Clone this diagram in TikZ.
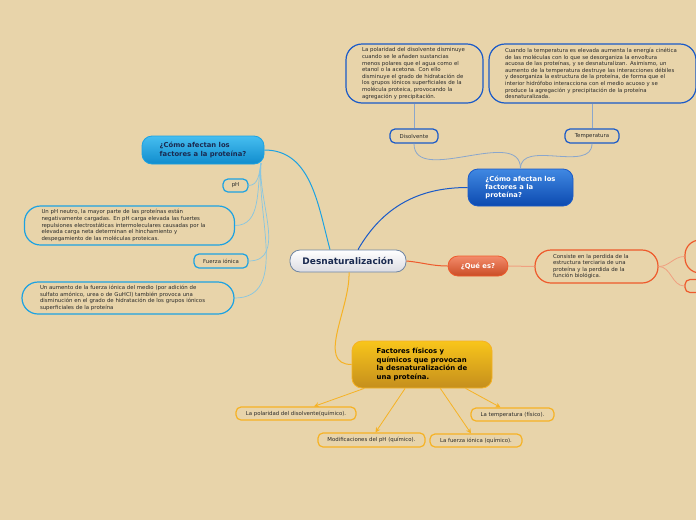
\documentclass[tikz,border=0pt]{standalone}
\usepackage{fontspec}
\setmainfont{DejaVu Sans}
\usepackage{tikz}
\usetikzlibrary{positioning,calc,arrows.meta}

\definecolor{bgtan}{HTML}{E8D4AA}
\definecolor{txtgray}{HTML}{2A2A2A}
\definecolor{navy}{HTML}{1A2A50}
\definecolor{deepblue}{HTML}{1A5AC8}
\definecolor{paleblue}{HTML}{8AA6CC}
\definecolor{skyblue}{HTML}{1CA2E2}
\definecolor{palesky}{HTML}{86C6E2}
\definecolor{redorange}{HTML}{EE5A2C}
\definecolor{paleorange}{HTML}{F0A080}
\definecolor{gold}{HTML}{F6B224}

\tikzset{
  topic/.style={rounded corners=10pt, draw, line width=0.8pt, inner sep=0pt,
    align=left, font=\bfseries\fontsize{6.8}{8.2}\selectfont},
  leaf/.style={rounded corners=5pt, draw, line width=1.2pt, inner sep=0pt,
    font=\fontsize{5.4}{6}\selectfont, text=txtgray},
  descbox/.style={rounded corners=16pt, draw, line width=1.2pt, inner xsep=16pt,
    inner ysep=0pt, align=left, font=\fontsize{5.4}{6.6}\selectfont, text=txtgray},
}

\begin{document}
\begin{tikzpicture}[x=1pt, y=-1pt]
  % Background
  \fill[bgtan] (0,0) rectangle (696,520);
  \clip (0,0) rectangle (696,520);

  % Central topic
  \node[topic, minimum width=116pt, minimum height=22pt, draw=paleblue!80!black,
    top color=white, bottom color=blue!10!gray!25, text=navy,
    font=\bfseries\fontsize{9}{10}\selectfont] (desn) at (348,261) {Desnaturalización};

  % Main branches
  \node[topic, minimum width=105pt, minimum height=37pt, draw=deepblue,
    top color={rgb,255:red,64;green,136;blue,226}, bottom color={rgb,255:red,12;green,74;blue,176}, text=white] (blueq) at (520.5,187.5)
    {¿Cómo afectan los\\factores a la\\proteína?};
  \node[topic, minimum width=122pt, minimum height=28pt, draw=skyblue,
    top color={rgb,255:red,70;green,190;blue,240}, bottom color={rgb,255:red,16;green,140;blue,205}, text=navy] (cyanq) at (203,150)
    {¿Cómo afectan los\\factores a la proteína?};
  \node[topic, minimum width=60pt, minimum height=20pt, draw=redorange,
    top color=redorange!70!white, bottom color=redorange!85!black, text=white] (quees) at (478,266)
    {¿Qué es?};
  \node[topic, minimum width=140pt, minimum height=47pt, draw=gold,
    top color=gold!75!yellow, bottom color=gold!80!black, text=black,
    font=\bfseries\fontsize{6.9}{8.5}\selectfont] (fact) at (422,364.5)
    {Factores físicos y\\químicos que provocan\\la desnaturalización de\\una proteína.};

  % Blue branch
  \node[leaf, draw=deepblue, minimum width=48pt, minimum height=14pt] (disol) at (414,136) {Disolvente};
  \node[leaf, draw=deepblue, minimum width=54pt, minimum height=14pt] (tempe) at (592,136) {Temperatura};
  \node[descbox, draw=deepblue, text width=105pt, minimum height=59pt] (disoldesc) at (414.5,73.5)
    {La polaridad del disolvente disminuye\\cuando se le añaden sustancias\\menos polares que el agua como el\\etanol o la acetona. Con ello\\disminuye el grado de hidratación de\\los grupos iónicos superficiales de la\\molécula proteica, provocando la\\agregación y precipitación.};
  \node[descbox, draw=deepblue, text width=175pt, minimum height=59pt] (tempedesc) at (592.5,73.5)
    {Cuando la temperatura es elevada aumenta la energía cinética\\de las moléculas con lo que se desorganiza la envoltura\\acuosa de las proteínas, y se desnaturalizan. Asimismo, un\\aumento de la temperatura destruye las interacciones débiles\\y desorganiza la estructura de la proteína, de forma que el\\interior hidrófobo interacciona con el medio acuoso y se\\produce la agregación y precipitación de la proteína\\desnaturalizada.};

  % Cyan branch
  \coordinate (cyanhub) at (261,163);
  \node[leaf, draw=skyblue, minimum width=25pt, minimum height=13pt] (ph) at (235.5,185.5) {pH};
  \node[descbox, draw=skyblue, text width=176pt, minimum height=39pt, inner xsep=17pt] (phdesc) at (129.5,225.5)
    {Un pH neutro, la mayor parte de las proteínas están\\negativamente cargadas. En pH carga elevada las fuertes\\repulsiones electrostáticas intermoleculares causadas por la\\elevada carga neta determinan el hinchamiento y\\despegamiento de las moléculas proteicas.};
  \node[leaf, draw=skyblue, minimum width=54pt, minimum height=14pt] (fuerza) at (221,261) {Fuerza iónica};
  \node[descbox, draw=skyblue, text width=176pt, minimum height=32pt, inner xsep=18pt] (fuerzadesc) at (128,298)
    {Un aumento de la fuerza iónica del medio (por adición de\\sulfato amónico, urea o de GuHCl) también provoca una\\disminución en el grado de hidratación de los grupos iónicos\\superficiales de la proteína};

  % Red branch
  \node[descbox, draw=redorange, text width=87pt, minimum height=33pt, inner xsep=18pt] (quedesc) at (596.5,266.5)
    {Consiste en la perdida de la\\estructura terciaria de una\\proteína y la perdida de la\\función biológica.};
  \node[descbox, draw=redorange, minimum width=50pt, minimum height=33pt, rounded corners=15pt] (queextra) at (710,256.5) {};
  \node[leaf, draw=redorange, minimum width=60pt, minimum height=13pt] (queleaf) at (715,286) {};

  % Orange branch
  \node[leaf, draw=gold, minimum width=120pt, minimum height=13pt] (pol) at (296,413.5) {La polaridad del disolvente(químico).};
  \node[leaf, draw=gold, minimum width=107pt, minimum height=14pt] (modif) at (371.5,440) {Modificaciones del pH (químico).};
  \node[leaf, draw=gold, minimum width=92pt, minimum height=13pt] (ionic) at (476,440.5) {La fuerza iónica (químico).};
  \node[leaf, draw=gold, minimum width=83pt, minimum height=13pt] (temp) at (512.5,414.5) {La temperatura (físico).};

  % Connectors from the central topic
  \draw[deepblue, line width=1pt] ([xshift=10pt]desn.north) to[out=60, in=180] (blueq.west);
  \draw[skyblue, line width=1pt] ([xshift=-18pt]desn.north) to[out=105, in=0] (cyanq.east);
  \draw[redorange, line width=1pt] (desn.east) to[out=-5, in=180] (quees.west);
  \draw[gold, line width=1pt] ([xshift=1pt]desn.south) to[out=-88, in=180] (fact.west);

  % Blue connectors
  \draw[paleblue, line width=0.8pt] (blueq.north) to[out=90, in=-90] (disol.south);
  \draw[paleblue, line width=0.8pt] (blueq.north) to[out=90, in=-90] (tempe.south);
  \draw[paleblue, line width=0.8pt] (disol.north) -- (disoldesc.south -| disol.north);
  \draw[paleblue, line width=0.8pt] (tempe.north) -- (tempedesc.south -| tempe.north);

  % Cyan connectors
  \draw[palesky, line width=0.7pt] (cyanhub) to[out=-100, in=0] (ph.east);
  \draw[palesky, line width=0.7pt] (cyanhub) to[out=-100, in=0] (phdesc.east);
  \draw[palesky, line width=0.7pt] (cyanhub) to[out=-95, in=0] (fuerza.east);
  \draw[palesky, line width=0.7pt] (cyanhub) to[out=-95, in=0] (fuerzadesc.east);

  % Red connectors
  \draw[paleorange, line width=1pt] (quees.east) -- (quedesc.west);
  \draw[paleorange, line width=0.8pt] (quedesc.east) to[out=0, in=180] (queextra.west);
  \draw[paleorange, line width=0.8pt] (quedesc.east) to[out=0, in=180] (queleaf.west);

  % Orange arrows
  \draw[gold, line width=0.8pt, -{Stealth[length=5pt, width=5pt]}]
    ($(fact.south west)!0.09!(fact.south east)$) -- ([xshift=18pt]pol.north);
  \draw[gold, line width=0.8pt, -{Stealth[length=5pt, width=5pt]}]
    ($(fact.south west)!0.38!(fact.south east)$) -- ([xshift=4pt]modif.north);
  \draw[gold, line width=0.8pt, -{Stealth[length=5pt, width=5pt]}]
    ($(fact.south west)!0.63!(fact.south east)$) -- ([xshift=-5pt]ionic.north);
  \draw[gold, line width=0.8pt, -{Stealth[length=5pt, width=5pt]}]
    ($(fact.south west)!0.81!(fact.south east)$) -- ([xshift=-12pt]temp.north);
\end{tikzpicture}
\end{document}
